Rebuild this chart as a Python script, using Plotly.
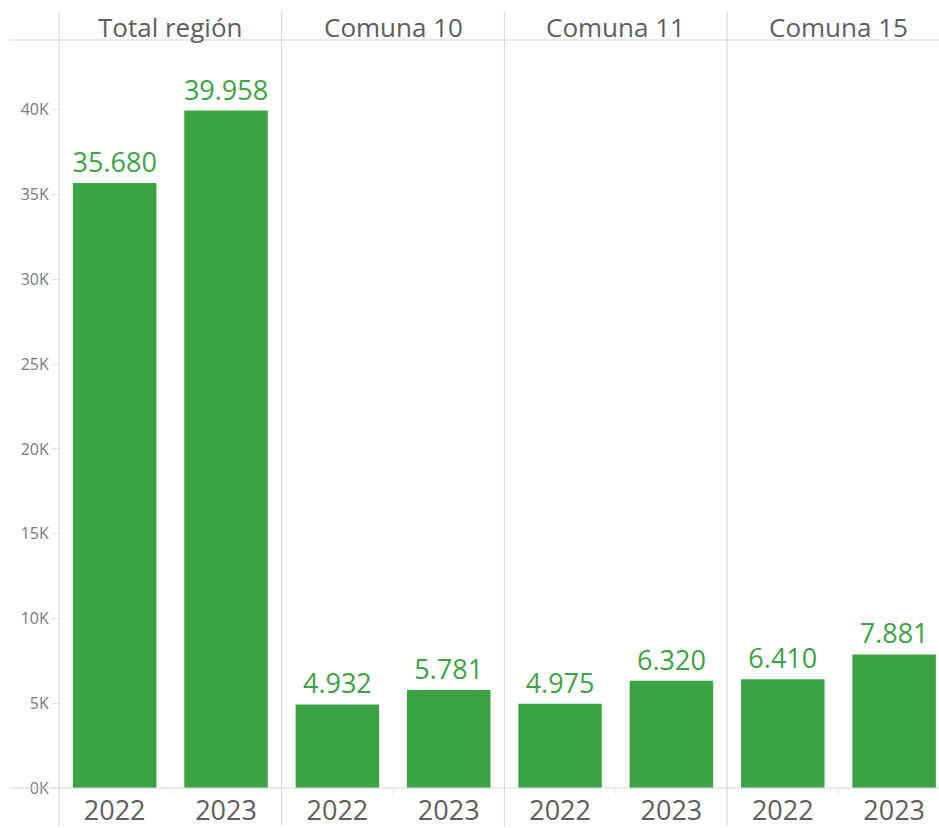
import plotly.graph_objects as go

# data
panels = ["Total región", "Comuna 10", "Comuna 11", "Comuna 15"]
years = ["2022", "2023"]
values = [
    [35680, 39958],
    [4932, 5781],
    [4975, 6320],
    [6410, 7881],
]
y_ticks = [0, 5000, 10000, 15000, 20000, 25000, 30000, 35000, 40000]
y_tick_labels = ["0K", "5K", "10K", "15K", "20K", "25K", "30K", "35K", "40K"]

GREEN = "#3ca345"
GREY_TXT = "#5e5e5e"
LINE = "#d4d4d4"
FONT = "'Open Sans', 'Noto Sans', sans-serif"

W, H = 939, 828
L, T, B = 59, 40, 790          # plot area in pixels
PW = 880                       # visible plot width
panel_w = 222.7                # width of one pane in px


def px(x):
    return (x - L) / PW


def py(y):
    return (B - y) / (B - T)


def fmt(v):
    return f"{v:,}".replace(",", ".")


fig = go.Figure()
layout_axes = {}
for i, (name, vals) in enumerate(zip(panels, values)):
    ax = "" if i == 0 else str(i + 1)
    x0 = L + panel_w * i
    x1 = min(x0 + panel_w, W)
    unit = panel_w / 2
    rng = [-0.5, -0.5 + (x1 - x0) / unit]
    fig.add_trace(go.Bar(
        x=years, y=vals, xaxis="x" + ax, yaxis="y",
        width=0.75, marker=dict(color=GREEN, line=dict(width=0)),
        text=[fmt(v) for v in vals], textposition="outside",
        textfont=dict(color=GREEN, size=27, family=FONT, weight=500),
        constraintext="none", cliponaxis=False, showlegend=False,
        hoverinfo="x+y",
    ))
    layout_axes["xaxis" + ax] = dict(
        domain=[px(x0), px(x1)], anchor="y", type="category",
        range=rng, showgrid=False, zeroline=False, showline=False,
        ticks="", tickfont=dict(size=27, color=GREY_TXT, family=FONT, weight=500),
        ticklabelstandoff=4, fixedrange=True,
    )
    # pane header
    fig.add_annotation(
        x=px(x0 + panel_w / 2), y=py(27), xref="paper", yref="paper",
        text=name, showarrow=False, xanchor="center", yanchor="middle",
        font=dict(size=26, color=GREY_TXT, family=FONT, weight=500),
    )
    # separators
    fig.add_shape(type="line", xref="paper", yref="paper",
                  x0=px(x0), x1=px(x0), y0=py(12), y1=py(828),
                  line=dict(color=LINE, width=1))
    # faint divider between years in the bottom header row
    fig.add_shape(type="line", xref="paper", yref="paper",
                  x0=px(x0 + unit), x1=px(x0 + unit), y0=py(791), y1=py(797),
                  line=dict(color="#ececec", width=1))

for yy in (T, B):
    fig.add_shape(type="line", xref="paper", yref="paper",
                  x0=px(9), x1=px(W), y0=py(yy), y1=py(yy),
                  line=dict(color=LINE, width=1))

fig.update_layout(
    width=W, height=H,
    margin=dict(l=L, r=0, t=T, b=H - B, pad=0),
    plot_bgcolor="white", paper_bgcolor="white",
    font=dict(family=FONT),
    yaxis=dict(
        domain=[0, 1], range=[0, 5000 * (B - T) / 85],
        tickvals=y_ticks, ticktext=y_tick_labels,
        tickfont=dict(size=16, color="#7a7a7a", family=FONT),
        ticks="outside", ticklen=6, tickcolor="#e0e0e0",
        showgrid=False, zeroline=False, showline=False, fixedrange=True,
    ),
    **layout_axes,
)

fig.write_html(
    "out.html",
    config={"displayModeBar": False},
    post_script="document.body.style.margin='0';document.body.style.overflow='hidden';",
)
